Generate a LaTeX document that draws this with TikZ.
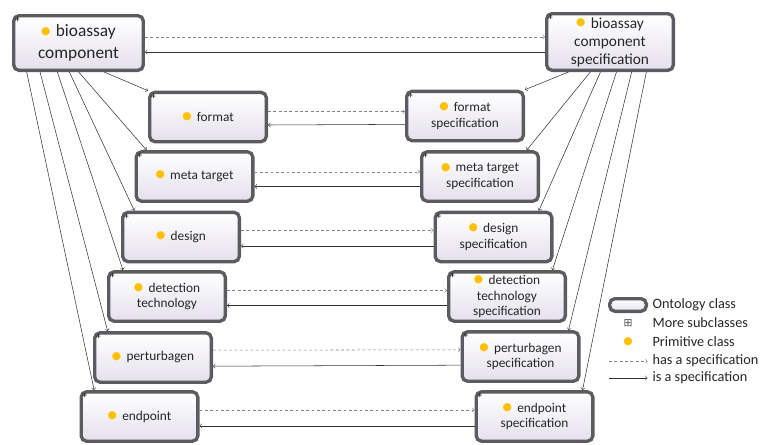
\documentclass[tikz,border=0pt]{standalone}
\usepackage{fontspec}
\setmainfont{Carlito}
\newfontfamily\dotfont{DejaVu Sans}
\definecolor{primyellow}{HTML}{FFC000}
\definecolor{boxfill}{HTML}{E4E0EC}
\definecolor{boxline}{HTML}{5C5C60}
\newcommand{\dotglyph}{{\dotfont\fontsize{8}{8}\selectfont\textcolor{primyellow}{●}}}
\newcommand{\pdot}{\raisebox{0.3ex}{\dotglyph}\hspace{4pt}}
\tikzset{
  boxlook/.style={draw=boxline,line width=2.5pt,rounded corners=4pt,top color=white,bottom color=boxfill},
  ontclass/.style={boxlook,minimum width=87.5pt,minimum height=37pt,inner sep=2pt,align=center,
    text=black!85,font=\fontsize{10}{11.8}\selectfont,label={[plusmark]north west:+}},
  bigleft/.style={minimum width=97.2pt,minimum height=41pt,font=\fontsize{13}{16}\selectfont},
  bigright/.style={minimum width=95pt,minimum height=42.5pt,font=\fontsize{11.5}{13.5}\selectfont},
  plusmark/.style={anchor=north west,inner sep=2.2pt,font=\fontsize{7}{7}\selectfont},
  hasspec/.style={->,>=to,gray,thin,dash pattern=on 2.2pt off 1.8pt},
  isspec/.style={->,>=to,black!80,thin},
  legendtext/.style={anchor=west,inner sep=1pt,text=black!85,font=\fontsize{10.7}{13}\selectfont}
}
\begin{document}
\begin{tikzpicture}[x=0.75pt,y=-0.75pt]
\useasboundingbox (0,0) rectangle (765,444);
% component classes
\node[ontclass,bigleft] (bc) at (78.5,43) {\pdot bioassay\\component};
\node[ontclass] (fmt) at (208,117) {\pdot format};
\node[ontclass] (meta) at (194.5,176.5) {\pdot meta target};
\node[ontclass] (dsgn) at (181,237) {\pdot design};
\node[ontclass] (detect) at (167,296.5) {\pdot detection\\technology};
\node[ontclass] (pert) at (153,357.5) {\pdot perturbagen};
\node[ontclass] (endp) at (139.5,416.5) {\pdot endpoint};
% specification classes
\node[ontclass,bigright] (bcspec) at (610,42) {\pdot bioassay\\component\\specification};
\node[ontclass] (fmtspec) at (465,116) {\pdot format\\specification};
\node[ontclass] (metaspec) at (480,176.5) {\pdot meta target\\specification};
\node[ontclass] (dsgnspec) at (493.5,237) {\pdot design\\specification};
\node[ontclass] (detectspec) at (507,296.5) {\pdot detection\\technology\\specification};
\node[ontclass] (pertspec) at (520.5,356.5) {\pdot perturbagen\\specification};
\node[ontclass] (endpspec) at (534.5,416.5) {\pdot endpoint\\specification};

% subclass fans
\draw[isspec] ([xshift=69pt]bc.south west) -- (fmt.north west); \draw[isspec] ([xshift=50pt]bc.south west) -- ([xshift=9pt]meta.north west); \draw[isspec] ([xshift=43pt]bc.south west) -- ([xshift=10pt]dsgn.north west); \draw[isspec] ([xshift=34pt]bc.south west) -- ([xshift=12pt]detect.north west); \draw[isspec] ([xshift=21pt]bc.south west) -- ([xshift=11pt]pert.north west); \draw[isspec] ([xshift=11pt]bc.south west) -- ([xshift=11pt]endp.north west);
\draw[isspec] ([xshift=17.6pt]bcspec.south west) -- (fmtspec.north east); \draw[isspec] ([xshift=34pt]bcspec.south west) -- ([xshift=-10pt]metaspec.north east); \draw[isspec] ([xshift=41.6pt]bcspec.south west) -- ([xshift=-11pt]dsgnspec.north east); \draw[isspec] ([xshift=53.6pt]bcspec.south west) -- ([xshift=-11pt]detectspec.north east); \draw[isspec] ([xshift=65pt]bcspec.south west) -- ([xshift=-9pt]pertspec.north east); \draw[isspec] ([xshift=76pt]bcspec.south west) -- ([xshift=-9pt]endpspec.north east);

% has a specification / is a specification
\draw[hasspec] ([yshift=4.5pt]bc.east) -- ([yshift=3.75pt]bcspec.west); \draw[isspec] ([yshift=-7.5pt]bcspec.west) -- ([yshift=-6.75pt]bc.east);
\draw[hasspec] ([yshift=4pt]fmt.east) -- ([yshift=3.25pt]fmtspec.west); \draw[isspec] ([yshift=-6.25pt]fmtspec.west) -- ([yshift=-6pt]fmt.east);
\draw[hasspec] ([yshift=3.5pt]meta.east) -- ([yshift=3.5pt]metaspec.west); \draw[isspec] ([yshift=-7.5pt]metaspec.west) -- ([yshift=-7.5pt]meta.east);
\draw[hasspec] ([yshift=5pt]dsgn.east) -- ([yshift=5pt]dsgnspec.west); \draw[isspec] ([yshift=-6.75pt]dsgnspec.west) -- ([yshift=-6.75pt]dsgn.east);
\draw[hasspec] ([yshift=4.5pt]detect.east) -- ([yshift=4.5pt]detectspec.west); \draw[isspec] ([yshift=-6.75pt]detectspec.west) -- ([yshift=-6.75pt]detect.east);
\draw[hasspec] ([yshift=5.5pt]pert.east) -- ([yshift=5pt]pertspec.west); \draw[isspec] ([yshift=-6.5pt]pertspec.west) -- ([yshift=-6.5pt]pert.east);
\draw[hasspec] ([yshift=5pt]endp.east) -- ([yshift=5pt]endpspec.west); \draw[isspec] ([yshift=-7pt]endpspec.west) -- ([yshift=-7pt]endp.east);

% legend
\node[boxlook,minimum width=27.5pt,minimum height=9.5pt,inner sep=0pt] (lgbox) at (628,305) {};
\node[legendtext] (lgcls) at (651,305) {Ontology class};
\node[inner sep=0pt,text=black!70,font=\dotfont\fontsize{8}{8}\selectfont] (lgplus) at (628,323) {⊞};
\node[legendtext] (lgsub) at (651,323) {More subclasses};
\node[inner sep=0pt] (lgdot) at (628,342) {\dotglyph};
\node[legendtext] (lgprim) at (651,342) {Primitive class};
\coordinate (lghas) at (609,361);
\node[legendtext] (lghastext) at (651,361) {has a specification};
\coordinate (lgis) at (609,378);
\node[legendtext] (lgistext) at (651,378) {is a specification};
\draw[hasspec,shorten >=2.5pt] (lghas) -- (lghastext.west); \draw[isspec,shorten >=2.5pt] (lgis) -- (lgistext.west);
\end{tikzpicture}
\end{document}
